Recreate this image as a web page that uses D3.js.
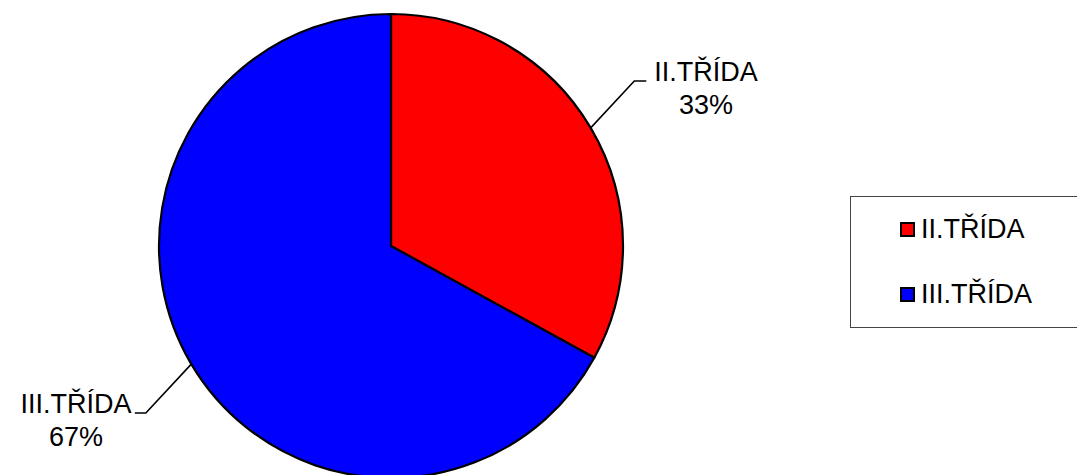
<!DOCTYPE html>
<html>
<head>
<meta charset="utf-8">
<script src="https://cdn.jsdelivr.net/npm/d3@7"></script>
<style>
  html, body { margin: 0; padding: 0; background: #fff; }
  svg { display: block; }
  text { font-family: "Liberation Sans", Arial, sans-serif; fill: #000; }
</style>
</head>
<body>
<svg id="chart" width="1077" height="475"></svg>
<script>
// Share of pupils by class
const categories = ["II.TŘÍDA", "III.TŘÍDA"];
const values = [33, 67];
const colors = ["#FF0000", "#0000FF"];

const svg = d3.select("#chart");
const cx = 391, cy = 246, R = 232;
const fontSize = 27;

const color = d3.scaleOrdinal().domain(categories).range(colors);
const total = d3.sum(values);
const data = categories.map((c, i) => ({ name: c, value: values[i] }));

const pie = d3.pie().sort(null).value(d => d.value);
const arcs = pie(data);
const arc = d3.arc().innerRadius(0).outerRadius(R);

const g = svg.append("g").attr("transform", `translate(${cx},${cy})`);

g.selectAll("path.slice")
  .data(arcs)
  .join("path")
  .attr("class", "slice")
  .attr("d", arc)
  .attr("fill", d => color(d.data.name))
  .attr("stroke", "#000")
  .attr("stroke-width", 2.2)
  .attr("stroke-linejoin", "round");

// Data labels with leader lines
const pct = d3.format(".0%");
const labelLayout = [
  { tail: 12, dir: 1, tx: 706, ty: 81 },
  { tail: 11, dir: -1, tx: 76, ty: 413 }
];

arcs.forEach((a, i) => {
  const mid = (a.startAngle + a.endAngle) / 2;
  const x0 = R * Math.sin(mid), y0 = -R * Math.cos(mid);
  const L = labelLayout[i];
  const y1 = L.ty - cy;
  const x1 = x0 + L.dir * Math.abs(y1 - y0) * 0.93;
  const x2 = x1 + L.dir * L.tail;
  g.append("polyline")
    .attr("points", [[x0, y0], [x1, y1], [x2, y1]].map(p => p.join(",")).join(" "))
    .attr("fill", "none")
    .attr("stroke", "#000")
    .attr("stroke-width", 1.6);

  const t = svg.append("text")
    .attr("x", L.tx)
    .attr("y", L.ty)
    .attr("text-anchor", "middle")
    .attr("font-size", fontSize);
  t.append("tspan").attr("x", L.tx).text(a.data.name);
  t.append("tspan").attr("x", L.tx).attr("dy", 33).text(pct(a.data.value / total));
});

// Legend
const legend = svg.append("g").attr("transform", "translate(850,196)");
legend.append("rect")
  .attr("x", 0.5).attr("y", 0.5)
  .attr("width", 260).attr("height", 131)
  .attr("fill", "#fff")
  .attr("stroke", "#444")
  .attr("stroke-width", 1);

const items = legend.selectAll("g.item")
  .data(categories)
  .join("g")
  .attr("class", "item")
  .attr("transform", (d, i) => `translate(0,${i * 65})`);

items.append("rect")
  .attr("x", 51).attr("y", 27)
  .attr("width", 13).attr("height", 13)
  .attr("fill", d => color(d))
  .attr("stroke", "#000")
  .attr("stroke-width", 2);

items.append("text")
  .attr("x", 71).attr("y", 42)
  .attr("font-size", fontSize)
  .text(d => d);
</script>
</body>
</html>
